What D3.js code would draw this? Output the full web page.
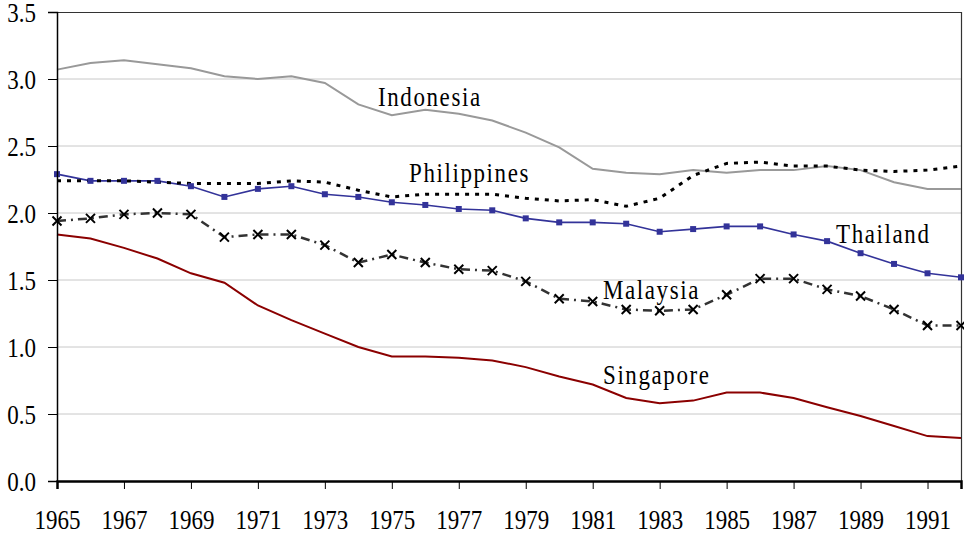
<!DOCTYPE html>
<html>
<head>
<meta charset="utf-8">
<script src="https://cdn.jsdelivr.net/npm/d3@7"></script>
</head>
<body style="margin:0">
<div id="chart"></div>
<script>
var years = d3.range(1965, 1993);
var indonesia = [3.07, 3.12, 3.14, 3.11, 3.08, 3.02, 3.00, 3.02, 2.97, 2.81, 2.73, 2.77, 2.74, 2.69, 2.60, 2.49, 2.33, 2.30, 2.29, 2.32, 2.30, 2.32, 2.32, 2.35, 2.32, 2.23, 2.18, 2.18];
var philippines = [2.24, 2.24, 2.24, 2.23, 2.22, 2.22, 2.22, 2.24, 2.23, 2.17, 2.12, 2.14, 2.14, 2.14, 2.11, 2.09, 2.10, 2.05, 2.11, 2.28, 2.37, 2.38, 2.35, 2.35, 2.32, 2.31, 2.32, 2.35];
var thailand = [2.29, 2.24, 2.24, 2.24, 2.20, 2.12, 2.18, 2.20, 2.14, 2.12, 2.08, 2.06, 2.03, 2.02, 1.96, 1.93, 1.93, 1.92, 1.86, 1.88, 1.90, 1.90, 1.84, 1.79, 1.70, 1.62, 1.55, 1.52];
var malaysia = [1.94, 1.96, 1.99, 2.00, 1.99, 1.82, 1.84, 1.84, 1.76, 1.63, 1.69, 1.63, 1.58, 1.57, 1.49, 1.36, 1.34, 1.28, 1.27, 1.28, 1.39, 1.51, 1.51, 1.43, 1.38, 1.28, 1.16, 1.16];
var singapore = [1.84, 1.81, 1.74, 1.66, 1.55, 1.48, 1.31, 1.20, 1.10, 1.00, 0.93, 0.93, 0.92, 0.90, 0.85, 0.78, 0.72, 0.62, 0.58, 0.60, 0.66, 0.66, 0.62, 0.55, 0.485, 0.41, 0.335, 0.32];
var yTicks = [0, 0.5, 1.0, 1.5, 2.0, 2.5, 3.0, 3.5];
var xTicks = [1965, 1967, 1969, 1971, 1973, 1975, 1977, 1979, 1981, 1983, 1985, 1987, 1989, 1991];

var WIDTH = 964, HEIGHT = 533;
var LEFT = 57, RIGHT = 961, TOP = 12, BOTTOM = 481;
var FONT = "'Liberation Serif'";

var x = d3.scaleLinear().domain([1965, 1992]).range([LEFT, RIGHT]);
var y = d3.scaleLinear().domain([0, 3.5]).range([BOTTOM, TOP]);

var svg = d3.select("#chart").append("svg")
    .attr("width", WIDTH)
    .attr("height", HEIGHT);

// gridlines
svg.append("g").selectAll("line")
    .data(yTicks.filter(function (d) { return d > 0 && d < 3.5; }))
    .enter().append("line")
    .attr("x1", LEFT).attr("x2", RIGHT)
    .attr("y1", function (d) { return y(d); })
    .attr("y2", function (d) { return y(d); })
    .attr("stroke", "#c8c8c8")
    .attr("stroke-width", 1);

// top and right border
svg.append("path")
    .attr("d", "M" + LEFT + "," + (TOP + 0.5) + "H" + (RIGHT + 0.5) + "V" + BOTTOM)
    .attr("fill", "none")
    .attr("stroke", "#333")
    .attr("stroke-width", 1.2);

var line = d3.line()
    .x(function (d, i) { return x(years[i]); })
    .y(function (d) { return y(d); });

var series = [
    { values: indonesia, color: "#999999", width: 2, dash: null },
    { values: singapore, color: "#8b0000", width: 2, dash: null },
    { values: thailand, color: "#333399", width: 1.6, dash: null },
    { values: philippines, color: "#000", width: 3, dash: "4,6" },
    { values: malaysia, color: "#333", width: 2.5, dash: "9,5,2,5" }
];

series.forEach(function (s) {
    svg.append("path")
        .datum(s.values)
        .attr("d", line)
        .attr("fill", "none")
        .attr("stroke", s.color)
        .attr("stroke-width", s.width)
        .attr("stroke-dasharray", s.dash);
});

// thailand square markers
svg.append("g").selectAll("rect")
    .data(thailand)
    .enter().append("rect")
    .attr("x", function (d, i) { return x(years[i]) - 3; })
    .attr("y", function (d) { return y(d) - 3; })
    .attr("width", 6).attr("height", 6)
    .attr("fill", "#333399");

// malaysia x markers
svg.append("g").selectAll("path")
    .data(malaysia)
    .enter().append("path")
    .attr("d", function (d, i) {
        var cx = x(years[i]), cy = y(d), r = 4.5;
        return "M" + (cx - r) + "," + (cy - r) + "L" + (cx + r) + "," + (cy + r) +
            "M" + (cx - r) + "," + (cy + r) + "L" + (cx + r) + "," + (cy - r);
    })
    .attr("stroke", "#000")
    .attr("stroke-width", 2)
    .attr("fill", "none");

// axes
var yAxis = svg.append("g")
    .attr("transform", "translate(" + LEFT + ",0)")
    .call(d3.axisLeft(y).tickValues(yTicks).tickFormat(d3.format(".1f")).tickSize(9).tickPadding(12));

var xAxis = svg.append("g")
    .attr("transform", "translate(0," + BOTTOM + ")")
    .call(d3.axisBottom(x).tickValues(xTicks).tickFormat(d3.format("d")).tickSize(8));

[yAxis, xAxis].forEach(function (a) {
    a.attr("font-family", null).attr("font-size", null);
    a.select(".domain").attr("stroke", "#000").attr("stroke-width", 1.5);
    a.selectAll(".tick line").attr("stroke", "#000").attr("stroke-width", 1);
    a.selectAll("text")
        .style("font-family", FONT)
        .style("font-size", "23px")
        .attr("fill", "#000");
});
xAxis.select(".domain").attr("stroke-width", 2.5);
yAxis.selectAll("text").attr("dy", "0.345em").attr("transform", "scale(1,1.2)");
xAxis.selectAll("text").attr("y", 40).attr("dy", 0).attr("transform", "scale(1,1.2)");

// series labels
var labelNames = ["Indonesia", "Philippines", "Thailand", "Malaysia", "Singapore"];
var labelX = [378, 409, 836, 603, 603];
var labelY = [106, 182, 243, 299, 384];

svg.append("g").selectAll("text")
    .data(labelNames)
    .enter().append("text")
    .attr("transform", function (d, i) {
        return "translate(" + labelX[i] + "," + labelY[i] + ") scale(1,1.15)";
    })
    .style("font-family", FONT)
    .style("font-size", "23px")
    .style("letter-spacing", "1.6px")
    .attr("fill", "#000")
    .text(function (d) { return d; });
</script>
</body>
</html>
